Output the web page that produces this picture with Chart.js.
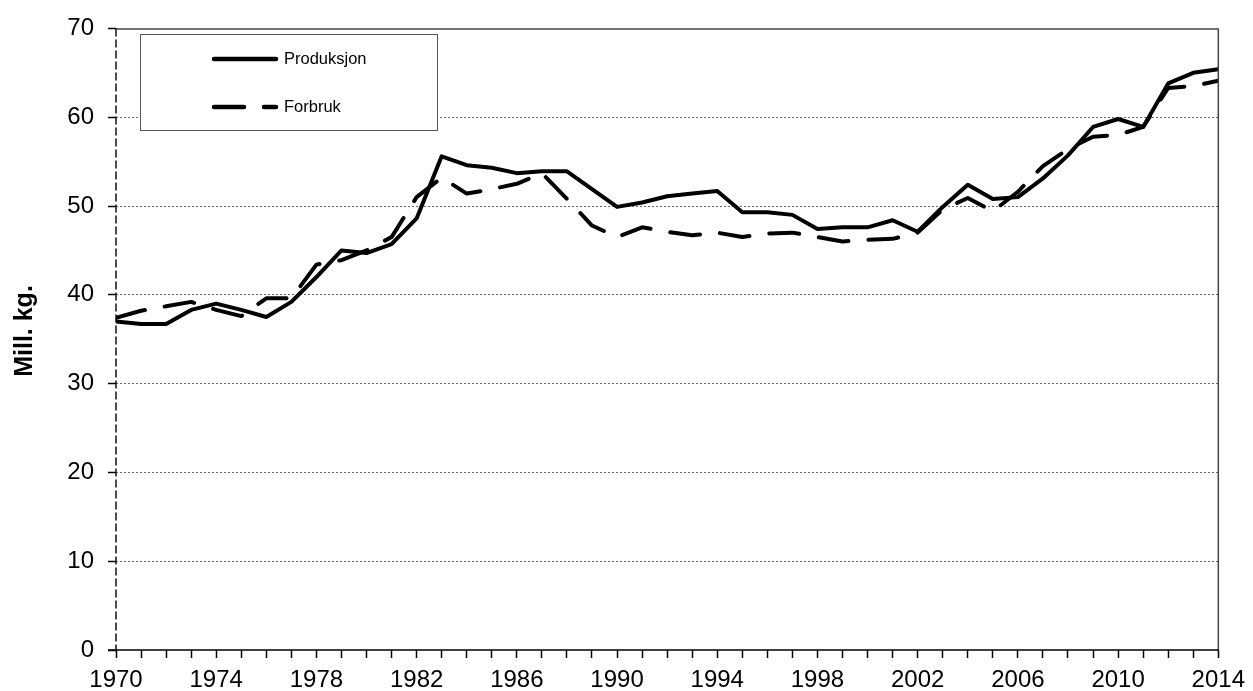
<!DOCTYPE html>
<html>
<head>
<meta charset="utf-8">
<script src="https://cdn.jsdelivr.net/npm/chart.js@4.4.1/dist/chart.umd.min.js"></script>
<style>
  html, body { margin: 0; padding: 0; background: #fff; }
  #wrap { width: 1253px; height: 691px; position: relative; }
</style>
</head>
<body>
<div id="wrap"><canvas id="c" width="1253" height="691"></canvas></div>
<script>
const years = [];
for (let y = 1970; y <= 2014; y++) years.push(y);

const produksjon = [
  37.0, 36.7, 36.7, 38.3, 39.0, 38.3, 37.5, 39.2, 42.0, 45.0,
  44.7, 45.7, 48.6, 55.6, 54.6, 54.3, 53.7, 53.9, 53.9, 51.9,
  49.9, 50.4, 51.1, 51.4, 51.7, 49.3, 49.3, 49.0, 47.4, 47.6,
  47.6, 48.4, 47.1, 49.9, 52.4, 50.8, 51.0, 53.1, 55.7, 58.9,
  59.8, 58.9, 63.8, 65.0, 65.4
];
const forbruk = [
  37.4, 38.2, 38.7, 39.2, 38.3, 37.6, 39.6, 39.6, 43.4, 43.9,
  45.0, 46.5, 51.0, 53.2, 51.4, 51.9, 52.5, 53.7, 50.8, 47.8,
  46.5, 47.6, 47.1, 46.7, 47.0, 46.5, 46.9, 47.0, 46.5, 46.0,
  46.2, 46.3, 47.0, 49.6, 50.9, 49.4, 51.6, 54.5, 56.4, 57.8,
  58.0, 58.9, 63.3, 63.5, 64.1
];
const seriesNames = ['Produksjon', 'Forbruk'];
const yTicks = [0, 10, 20, 30, 40, 50, 60, 70];
const xLabelYears = [1970, 1974, 1978, 1982, 1986, 1990, 1994, 1998, 2002, 2006, 2010, 2014];
const yTitle = 'Mill. kg.';

const FONT = '"Liberation Sans", Arial, sans-serif';

const framePlugin = {
  id: 'frame',
  afterDatasetsDraw(chart) {
    const {ctx, chartArea: a} = chart;
    ctx.save();
    ctx.lineWidth = 1.5;
    ctx.strokeStyle = '#444';
    ctx.beginPath();
    ctx.moveTo(a.left, a.top + 0.5);
    ctx.lineTo(a.right, a.top + 0.5);
    ctx.lineTo(a.right, a.bottom);
    ctx.stroke();
    ctx.strokeStyle = '#000';
    ctx.lineWidth = 1.5;
    ctx.beginPath();
    ctx.moveTo(a.left - 8, a.bottom);
    ctx.lineTo(a.right, a.bottom);
    ctx.stroke();
    ctx.setLineDash([8, 3]);
    ctx.lineWidth = 1.5;
    ctx.strokeStyle = '#111';
    ctx.beginPath();
    ctx.moveTo(a.left, a.top);
    ctx.lineTo(a.left, a.bottom);
    ctx.stroke();
    ctx.restore();
    // y axis title
    ctx.save();
    ctx.translate(25, 331);
    ctx.rotate(-Math.PI / 2);
    ctx.fillStyle = '#000';
    ctx.font = 'bold 25px ' + FONT;
    ctx.textAlign = 'center';
    ctx.textBaseline = 'middle';
    ctx.fillText(yTitle, 0, 0);
    ctx.restore();
  }
};

const legendPlugin = {
  id: 'boxLegend',
  afterDraw(chart) {
    const {ctx} = chart;
    ctx.save();
    ctx.fillStyle = '#fff';
    ctx.fillRect(140, 34, 297, 96);
    ctx.strokeStyle = '#555';
    ctx.lineWidth = 1;
    ctx.strokeRect(140.5, 34.5, 297, 96);
    const rows = [59, 107];
    chart.data.datasets.forEach((ds, i) => {
      const y = rows[i];
      ctx.strokeStyle = '#000';
      ctx.lineWidth = 4.5;
      ctx.lineCap = 'round';
      ctx.setLineDash(ds.borderDash || []);
      ctx.beginPath();
      ctx.moveTo(214, y);
      ctx.lineTo(276, y);
      ctx.stroke();
      ctx.setLineDash([]);
      ctx.fillStyle = '#000';
      ctx.font = '16.5px ' + FONT;
      ctx.textBaseline = 'middle';
      ctx.textAlign = 'left';
      ctx.fillText(ds.label, 284, y);
    });
    ctx.restore();
  }
};

new Chart(document.getElementById('c'), {
  type: 'line',
  data: {
    labels: years,
    datasets: [
      {
        label: seriesNames[0],
        data: years.map((y, i) => ({x: y, y: produksjon[i]})),
        borderColor: '#000',
        borderWidth: 4,
        borderJoinStyle: 'round',
        borderCapStyle: 'round',
        pointRadius: 0,
        tension: 0,
        fill: false
      },
      {
        label: seriesNames[1],
        data: years.map((y, i) => ({x: y, y: forbruk[i]})),
        borderColor: '#000',
        borderWidth: 4,
        borderDash: [30, 20],
        borderJoinStyle: 'round',
        borderCapStyle: 'round',
        pointRadius: 0,
        tension: 0,
        fill: false
      }
    ]
  },
  options: {
    responsive: false,
    animation: false,
    events: [],
    layout: { padding: { top: 28, right: 31, left: 0, bottom: 0 } },
    plugins: { legend: { display: false }, tooltip: { enabled: false }, title: { display: false } },
    scales: {
      x: {
        type: 'linear',
        min: 1970,
        max: 2014,
        afterFit(s) { s.height = 41; },
        afterBuildTicks(s) { s.ticks = years.map(v => ({value: v})); },
        ticks: {
          autoSkip: false,
          maxRotation: 0,
          padding: 8,
          color: '#000',
          font: { family: FONT, size: 24 },
          callback: v => xLabelYears.includes(v) ? String(v) : ''
        },
        grid: {
          drawOnChartArea: false,
          drawTicks: true,
          tickLength: 8,
          tickColor: '#000',
          tickWidth: 1.5
        },
        border: { display: false }
      },
      y: {
        min: 0,
        max: 70,
        afterFit(s) { s.width = 116; },
        afterBuildTicks(s) { s.ticks = yTicks.map(v => ({value: v})); },
        ticks: {
          padding: 14,
          color: '#000',
          font: { family: FONT, size: 24 }
        },
        grid: {
          drawTicks: true,
          tickLength: 8,
          tickColor: '#000',
          tickWidth: 1.5,
          tickBorderDash: [],
          lineWidth: 1,
          color: c => (c.tick && c.tick.value > 0 && c.tick.value < 70) ? '#666' : 'rgba(0,0,0,0)'
        },
        border: { display: false, dash: [2, 2] },
        title: { display: false }
      }
    }
  },
  plugins: [framePlugin, legendPlugin]
});
</script>
</body>
</html>
